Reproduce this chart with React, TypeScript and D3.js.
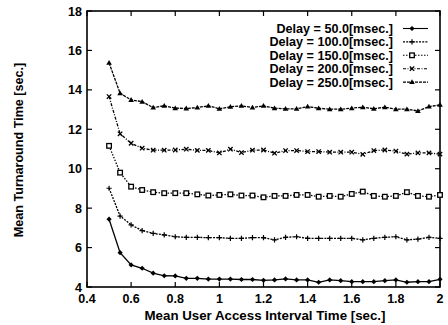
import React from "react";
import * as d3 from "d3";

const xValues = [0.5, 0.55, 0.6, 0.65, 0.7, 0.75, 0.8, 0.85, 0.9, 0.95, 1.0, 1.05, 1.1, 1.15, 1.2, 1.25, 1.3, 1.35, 1.4, 1.45, 1.5, 1.55, 1.6, 1.65, 1.7, 1.75, 1.8, 1.85, 1.9, 1.95, 2.0];

const delay50 = [7.44, 5.74, 5.12, 4.95, 4.7, 4.57, 4.56, 4.44, 4.44, 4.4, 4.4, 4.4, 4.38, 4.38, 4.34, 4.36, 4.41, 4.36, 4.36, 4.24, 4.36, 4.32, 4.27, 4.27, 4.27, 4.32, 4.36, 4.24, 4.27, 4.27, 4.39];
const delay100 = [9.01, 7.6, 7.15, 6.86, 6.72, 6.64, 6.55, 6.52, 6.52, 6.5, 6.5, 6.47, 6.47, 6.5, 6.5, 6.39, 6.52, 6.55, 6.47, 6.47, 6.47, 6.47, 6.47, 6.39, 6.47, 6.52, 6.55, 6.39, 6.43, 6.52, 6.47];
const delay150 = [11.16, 9.8, 9.09, 8.92, 8.81, 8.76, 8.76, 8.76, 8.7, 8.64, 8.67, 8.7, 8.64, 8.64, 8.55, 8.62, 8.62, 8.67, 8.67, 8.58, 8.62, 8.58, 8.72, 8.84, 8.62, 8.58, 8.62, 8.81, 8.62, 8.58, 8.67];
const delay200 = [13.66, 11.77, 11.29, 11.04, 10.94, 10.94, 10.95, 10.99, 10.93, 10.93, 10.8, 10.99, 10.82, 10.94, 10.95, 10.79, 10.92, 10.92, 10.87, 10.87, 10.84, 10.84, 10.84, 10.73, 10.92, 10.95, 10.89, 10.74, 10.8, 10.8, 10.74];
const delay250 = [15.37, 13.83, 13.49, 13.4, 13.1, 13.19, 13.07, 13.06, 13.1, 13.19, 13.04, 13.14, 13.19, 13.1, 13.19, 13.07, 13.04, 13.04, 13.15, 13.07, 13.02, 13.02, 13.07, 13.12, 13.04, 13.12, 13.02, 13.02, 12.93, 13.15, 13.24];

const seriesLabels = ["Delay = 50.0[msec.]", "Delay = 100.0[msec.]", "Delay = 150.0[msec.]", "Delay = 200.0[msec.]", "Delay = 250.0[msec.]"];
const xTicks = [0.4, 0.6, 0.8, 1, 1.2, 1.4, 1.6, 1.8, 2];
const yTicks = [4, 6, 8, 10, 12, 14, 16, 18];

const W = 448, H = 325;
const L = 87, R = 440, T = 11, B = 287;
const FONT = "Liberation Sans, Arial, Helvetica, sans-serif";

const seriesData = [delay50, delay100, delay150, delay200, delay250];
const markers = ["diamond", "plus", "square", "cross", "triangle"];
const dashes = ["none", "2,1.2", "1.5,1.5", "3,1.5,1,1.5", "3,1"];

function Marker({ kind, x, y }: { kind: string; x: number; y: number }) {
  const s = 2.6;
  if (kind === "diamond")
    return <path d={`M${x},${y - s}L${x + s},${y}L${x},${y + s}L${x - s},${y}Z`} fill="#000" />;
  if (kind === "plus")
    return <path d={`M${x - s},${y}H${x + s}M${x},${y - s}V${y + s}`} stroke="#000" strokeWidth={1.2} />;
  if (kind === "square")
    return <rect x={x - 2.3} y={y - 2.3} width={4.6} height={4.6} fill="#fff" stroke="#000" strokeWidth={1.3} />;
  if (kind === "cross")
    return <path d={`M${x - 2.2},${y - 2.2}L${x + 2.2},${y + 2.2}M${x - 2.2},${y + 2.2}L${x + 2.2},${y - 2.2}`} stroke="#000" strokeWidth={1.3} />;
  return <path d={`M${x},${y - 2.8}L${x + 2.8},${y + 2}L${x - 2.8},${y + 2}Z`} fill="#000" />;
}

export default function App() {
  const x = d3.scaleLinear().domain([0.4, 2]).range([L, R]);
  const y = d3.scaleLinear().domain([4, 18]).range([B, T]);
  const line = d3.line<number>().x((_, i) => x(xValues[i])).y((d) => y(d));

  return (
    <svg width={W} height={H} style={{ position: "absolute", left: 0, top: 0, background: "#fff" }} fontFamily={FONT}>
      <rect x={0} y={0} width={W} height={H} fill="#fff" />
      {xTicks.map((t) => (
        <g key={"x" + t}>
          <line x1={x(t)} x2={x(t)} y1={B} y2={B - 5} stroke="#000" strokeWidth={1.2} />
          <line x1={x(t)} x2={x(t)} y1={T} y2={T + 5} stroke="#000" strokeWidth={1.2} />
          <text x={x(t)} y={303} textAnchor="middle" fontSize={12.5} fontWeight="bold">{String(t)}</text>
        </g>
      ))}
      {yTicks.map((t) => (
        <g key={"y" + t}>
          <line x1={L} x2={L + 5} y1={y(t)} y2={y(t)} stroke="#000" strokeWidth={1.2} />
          <line x1={R} x2={R - 5} y1={y(t)} y2={y(t)} stroke="#000" strokeWidth={1.2} />
          <text x={82} y={y(t) + 4.5} textAnchor="end" fontSize={12.5} fontWeight="bold">{String(t)}</text>
        </g>
      ))}
      <rect x={L} y={T} width={R - L} height={B - T} fill="none" stroke="#000" strokeWidth={1.6} />
      {seriesData.map((d, si) => (
        <g key={si}>
          <path d={line(d) || ""} fill="none" stroke="#000" strokeWidth={1.3} strokeDasharray={dashes[si]} />
          {d.map((v, i) => (
            <Marker key={i} kind={markers[si]} x={x(xValues[i])} y={y(v)} />
          ))}
        </g>
      ))}
      {seriesLabels.map((lab, i) => {
        const ly = 28.5 + i * 13.4;
        return (
          <g key={lab}>
            <text x={393} y={ly + 4.5} textAnchor="end" fontSize={12.6} fontWeight="bold">{lab}</text>
            <line x1={403} x2={428} y1={ly} y2={ly} stroke="#000" strokeWidth={1.1} strokeDasharray={dashes[i]} />
            <Marker kind={markers[i]} x={412} y={ly} />
          </g>
        );
      })}
      <text x={265} y={320} textAnchor="middle" fontSize={13.3} fontWeight="bold">Mean User Access Interval Time [sec.]</text>
      <text transform={`translate(23,150) rotate(-90)`} textAnchor="middle" fontSize={12.6} fontWeight="bold">Mean Turnaround Time [sec.]</text>
    </svg>
  );
}
